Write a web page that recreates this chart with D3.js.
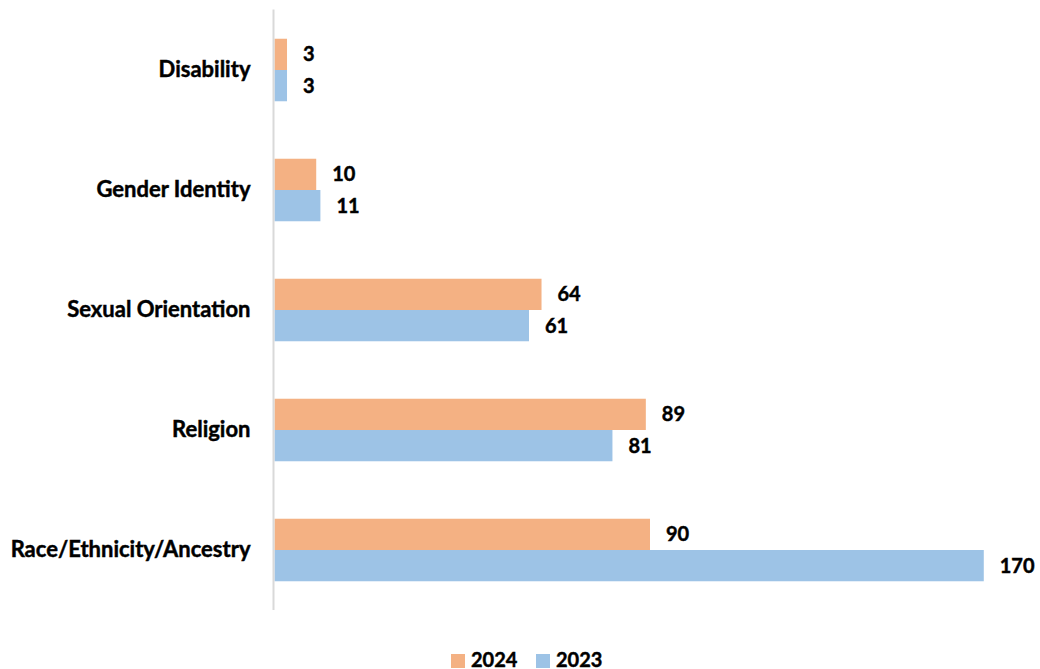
<!DOCTYPE html>
<html><head><meta charset="utf-8">
<script src="https://cdn.jsdelivr.net/npm/d3@7"></script>
<style>html,body{margin:0;padding:0;background:#fff;}svg{display:block;}</style>
</head><body>
<svg id="chart" width="1040" height="669"></svg>
<script>
const categories = ["Disability", "Gender Identity", "Sexual Orientation", "Religion", "Race/Ethnicity/Ancestry"];
const seriesNames = ["2024", "2023"];
const values2024 = [3, 10, 64, 89, 90];
const values2023 = [3, 11, 61, 81, 170];
const colors = ["#F4B183", "#9DC3E6"];

const font = "Lato, 'Open Sans', sans-serif";
const svg = d3.select("#chart");
const x = d3.scaleLinear().domain([0, 180]).range([274.5, 1025.5]);
const y = d3.scaleBand().domain(categories).range([10, 610]).paddingInner(0.479).paddingOuter(0.2395);
const sub = d3.scaleBand().domain(seriesNames).range([0, y.bandwidth()]);

const data = categories.map((c, i) => ({cat: c, vals: [
  {s: "2024", v: values2024[i]}, {s: "2023", v: values2023[i]}]}));

function styleText(sel, size) {
  sel.attr("font-family", font).attr("font-weight", "bold").attr("font-size", size)
    .attr("fill", "#000").attr("stroke", "#000").attr("stroke-width", 0.45);
}

const g = svg.append("g").selectAll("g").data(data).join("g")
  .attr("transform", d => `translate(0,${y(d.cat)})`);
g.selectAll("rect").data(d => d.vals).join("rect")
  .attr("x", x(0)).attr("y", d => sub(d.s))
  .attr("width", d => x(d.v) - x(0)).attr("height", sub.bandwidth())
  .attr("fill", (d, i) => colors[i]);
g.selectAll("text.val").data(d => d.vals).join("text").attr("class", "val")
  .attr("x", d => x(d.v) + 16).attr("y", d => sub(d.s) + sub.bandwidth() / 2)
  .attr("dy", "0.35em")
  .call(styleText, 20)
  .text(d => d.v);

// category axis
const yAxis = d3.axisLeft(y).tickSize(0).tickPadding(23);
const ax = svg.append("g").attr("transform", `translate(${x(0) - 1},0)`).call(yAxis);
ax.select(".domain").attr("stroke", "#D9D9D9").attr("stroke-width", 2).attr("d", "M0,9.5V610");
ax.selectAll("text").call(styleText, 22);

// legend
const legend = svg.append("g");
const legendX = [451, 536];
seriesNames.forEach((s, i) => {
  legend.append("rect").attr("x", legendX[i]).attr("y", 654).attr("width", 14).attr("height", 14).attr("fill", colors[i]);
  legend.append("text").attr("x", legendX[i] + 20).attr("y", 666.5).call(styleText, 20).text(s);
});
</script>
</body></html>
